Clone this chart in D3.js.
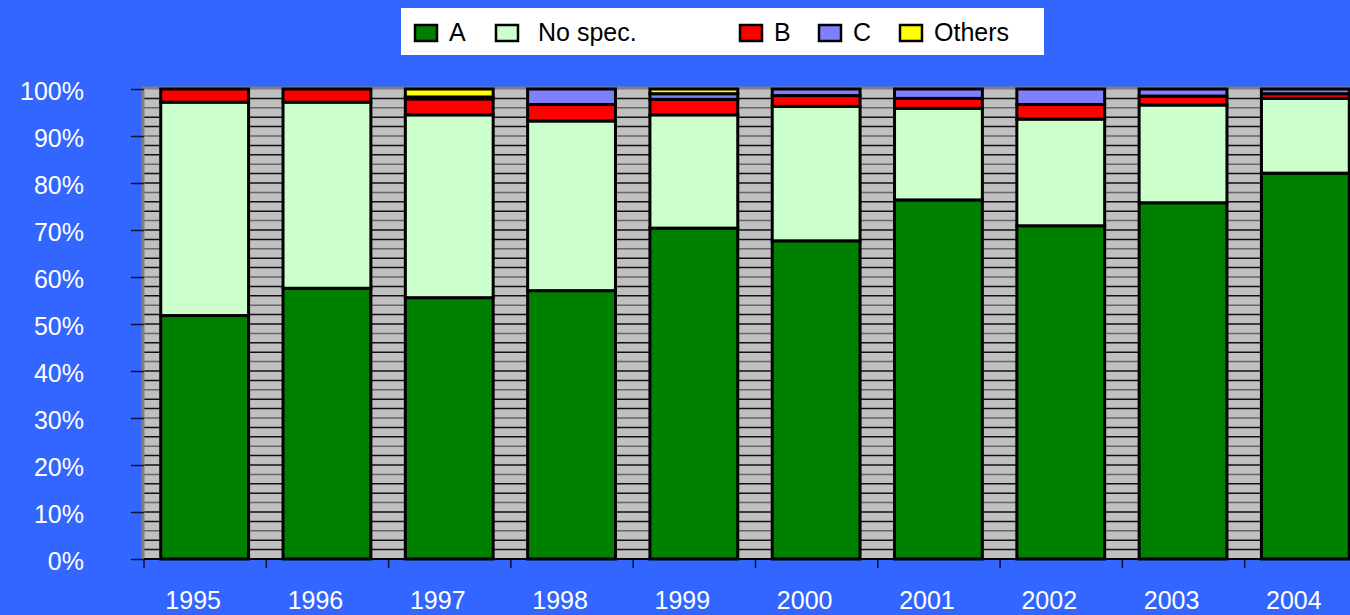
<!DOCTYPE html>
<html lang="en">
  <head>
    <meta charset="UTF-8" />
    <title>Share by year</title>
    <style>
      body { margin: 0; background: #3366ff; }
      svg { display: block; font-family: "Liberation Sans", Arial, sans-serif; }
    </style>
  </head>
  <body>
    <script src="https://cdn.jsdelivr.net/npm/d3@7"></script>
    <script>
    // data (percent of each year)
    var years = ["1995", "1996", "1997", "1998", "1999", "2000", "2001", "2002", "2003", "2004"];
    var seriesNames = ["A", "No spec.", "B", "C", "Others"];
    var valA      = [51.8, 57.6, 55.6, 57.1, 70.4, 67.7, 76.4, 70.9, 75.8, 82.1];
    var valNoSpec = [45.4, 39.6, 38.9, 36.1, 24.1, 28.6, 19.5, 22.7, 20.8, 15.9];
    var valB      = [2.8, 2.8, 3.4, 3.5, 3.3, 2.3, 2.1, 3.1, 1.9, 1.0];
    var valC      = [0, 0, 0.4, 3.3, 1.2, 1.4, 2.0, 3.3, 1.5, 1.0];
    var valOthers = [0, 0, 1.7, 0, 1.0, 0, 0, 0, 0, 0];
    var yTicks = [0, 10, 20, 30, 40, 50, 60, 70, 80, 90, 100];

    var colors = ["#008000", "#ccffcc", "#ff0000", "#8080ff", "#ffff00"];

    var width = 1350, height = 615;
    var plot = { left: 144, right: 1367, top: 89, bottom: 559 };

    // build table for d3.stack
    var table = years.map(function(y, i) {
      return { year: y, "A": valA[i], "No spec.": valNoSpec[i], "B": valB[i], "C": valC[i], "Others": valOthers[i] };
    });
    var stacked = d3.stack().keys(seriesNames)(table);

    var svg = d3.select("body").append("svg")
      .attr("width", width)
      .attr("height", height);

    svg.append("rect")
      .attr("width", width).attr("height", height)
      .attr("fill", "#3366ff");

    var x = d3.scaleBand()
      .domain(years)
      .range([plot.left, plot.right])
      .paddingInner(0.29)
      .paddingOuter(0.145);

    var y = d3.scaleLinear()
      .domain([0, 100])
      .range([plot.bottom, plot.top]);

    // plot area with hatch-like gridlines
    svg.append("rect")
      .attr("x", plot.left).attr("y", plot.top)
      .attr("width", plot.right - plot.left)
      .attr("height", plot.bottom - plot.top)
      .attr("fill", "#c0c0c0");

    var grid = d3.range(2, 100, 2);
    svg.append("g").selectAll("line")
      .data(grid)
      .enter()
      .append("line")
      .attr("x1", plot.left).attr("x2", plot.right)
      .attr("y1", function(d) { return y(d); })
      .attr("y2", function(d) { return y(d); })
      .attr("stroke", function(d, i) { return i % 3 == 2 ? "#666" : "#111"; })
      .attr("stroke-width", 1.5);

    // plot border (left + top)
    svg.append("path")
      .attr("d", "M" + (plot.left - 1) + "," + plot.bottom + "V" + (plot.top - 1) + "H" + plot.right)
      .attr("fill", "none")
      .attr("stroke", "#808080")
      .attr("stroke-width", 3);

    // bars
    var layers = svg.append("g").selectAll("g")
      .data(stacked)
      .enter()
      .append("g")
      .attr("fill", function(d, i) { return colors[i]; });

    layers.selectAll("rect")
      .data(function(d) { return d.filter(function(s) { return s[1] - s[0] > 0; }); })
      .enter()
      .append("rect")
      .attr("x", function(d) { return x(d.data.year) - 1; })
      .attr("width", x.bandwidth() + 1)
      .attr("y", function(d) { return y(d[1]); })
      .attr("height", function(d) { return y(d[0]) - y(d[1]); })
      .attr("stroke", "#000")
      .attr("stroke-width", 3);

    // y axis
    var yAxis = svg.append("g")
      .attr("transform", "translate(" + plot.left + ",0)")
      .call(d3.axisLeft(y).tickValues(yTicks).tickSize(13).tickPadding(47)
        .tickFormat(function(d) { return d + "%"; }));
    yAxis.select(".domain").remove();
    yAxis.selectAll("line").attr("stroke", "#101030").attr("stroke-width", 1.5);
    yAxis.selectAll("text")
      .attr("fill", "#fff")
      .attr("font-size", "25px")
      .attr("font-family", "'Liberation Sans', Arial, sans-serif")
      .attr("dy", "0.4em");

    // x axis: ticks at band boundaries, labels at centers
    var bounds = d3.range(years.length + 1).map(function(i) {
      return x.range()[0] + i * x.step();
    });
    svg.append("g").selectAll("line")
      .data(bounds)
      .enter()
      .append("line")
      .attr("x1", function(d) { return d; })
      .attr("x2", function(d) { return d; })
      .attr("y1", plot.bottom)
      .attr("y2", plot.bottom + 9)
      .attr("stroke", "#101030")
      .attr("stroke-width", 1.5);

    svg.append("line")
      .attr("x1", plot.left).attr("x2", plot.right)
      .attr("y1", plot.bottom).attr("y2", plot.bottom)
      .attr("stroke", "#000").attr("stroke-width", 2);

    svg.append("g").selectAll("text")
      .data(years)
      .enter()
      .append("text")
      .attr("x", function(d) { return x(d) + x.bandwidth() / 2 - 12; })
      .attr("y", 609)
      .attr("text-anchor", "middle")
      .attr("fill", "#fff")
      .attr("font-size", "25px")
      .text(function(d) { return d; });

    // legend
    var legendBox = { x: 401, y: 8, w: 643, h: 47 };
    var legendSwatchX = [415, 496, 740, 819, 900];
    var legendTextDx = [34, 42, 34, 34, 34];
    svg.append("rect")
      .attr("x", legendBox.x).attr("y", legendBox.y)
      .attr("width", legendBox.w).attr("height", legendBox.h)
      .attr("fill", "#fff");

    var legend = svg.append("g").selectAll("g")
      .data(seriesNames)
      .enter()
      .append("g")
      .attr("transform", function(d, i) { return "translate(" + legendSwatchX[i] + ",0)"; });

    legend.append("rect")
      .attr("x", 0).attr("y", 25)
      .attr("width", 22).attr("height", 16)
      .attr("fill", function(d, i) { return colors[i]; })
      .attr("stroke", "#000")
      .attr("stroke-width", 2.5);

    legend.append("text")
      .attr("x", function(d, i) { return legendTextDx[i]; })
      .attr("y", 41)
      .attr("fill", "#000")
      .attr("font-size", "25px")
      .text(function(d) { return d; });
    </script>
  </body>
</html>
